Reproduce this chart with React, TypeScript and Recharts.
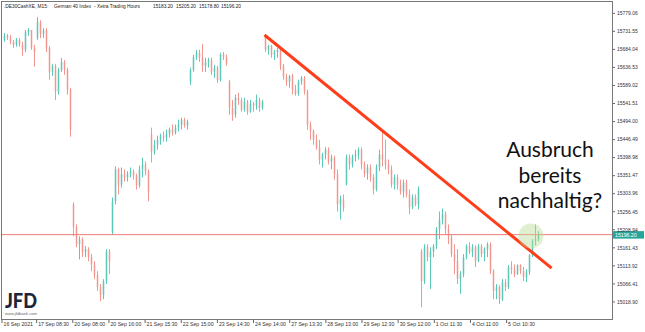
import { Bar, ComposedChart, ReferenceDot, ReferenceLine, XAxis, YAxis } from "recharts";

// M15 candles, [open, high, low, close], grouped roughly by session
const sep16 = [
  [15709, 15727, 15704, 15720], [15720, 15725, 15709, 15714], [15714, 15722, 15698, 15704],
  [15704, 15709, 15688, 15696], [15696, 15714, 15691, 15709], [15709, 15714, 15691, 15696],
  [15696, 15704, 15667, 15683], [15683, 15735, 15677, 15730], [15730, 15740, 15720, 15735],
  [15735, 15735, 15683, 15688], [15688, 15696, 15638, 15677],
];
const sep17 = [
  [15714, 15769, 15709, 15756], [15756, 15761, 15714, 15725], [15725, 15740, 15714, 15735],
  [15735, 15740, 15677, 15688], [15688, 15693, 15604, 15625], [15625, 15646, 15614, 15641],
  [15641, 15646, 15551, 15573], [15573, 15636, 15565, 15630], [15630, 15662, 15625, 15651],
  [15651, 15656, 15617, 15630], [15630, 15636, 15565, 15578], [15578, 15583, 15454, 15473],
];
const sep20 = [
  [15276, 15281, 15192, 15216], [15216, 15223, 15163, 15171], [15171, 15192, 15131, 15184],
  [15184, 15189, 15137, 15150], [15150, 15166, 15137, 15158], [15158, 15163, 15126, 15137],
  [15137, 15145, 15100, 15118], [15118, 15126, 15079, 15090], [15090, 15100, 15048, 15058],
  [15058, 15066, 15021, 15037], [15037, 15079, 15026, 15074], [15074, 15158, 15066, 15152],
  [15152, 15158, 15092, 15126], [15202, 15294, 15197, 15284], [15284, 15376, 15276, 15368],
  [15368, 15373, 15302, 15328], [15328, 15373, 15320, 15355], [15355, 15368, 15336, 15347],
  [15347, 15363, 15336, 15357], [15357, 15373, 15347, 15363], [15363, 15368, 15341, 15352],
  [15352, 15357, 15315, 15326], [15326, 15378, 15320, 15368], [15368, 15399, 15347, 15381],
  [15381, 15389, 15352, 15363], [15363, 15368, 15284, 15310],
];
const sep21 = [
  [15460, 15478, 15386, 15415], [15415, 15446, 15407, 15433], [15433, 15457, 15420, 15446],
  [15446, 15462, 15433, 15457], [15457, 15468, 15441, 15452], [15452, 15473, 15441, 15462],
  [15462, 15478, 15452, 15473], [15473, 15486, 15457, 15465], [15465, 15486, 15460, 15478],
  [15478, 15499, 15468, 15486], [15486, 15504, 15473, 15499], [15499, 15504, 15478, 15483],
  [15483, 15499, 15473, 15494],
];
const sep22 = [
  [15599, 15636, 15591, 15630], [15630, 15670, 15625, 15664], [15664, 15683, 15656, 15675],
  [15675, 15683, 15651, 15662], [15662, 15698, 15625, 15641], [15641, 15662, 15625, 15651],
  [15651, 15662, 15636, 15656], [15656, 15662, 15617, 15625], [15625, 15643, 15609, 15636],
  [15636, 15641, 15596, 15604], [15604, 15675, 15599, 15670], [15670, 15677, 15656, 15664],
  [15664, 15670, 15641, 15646],
];
const sep23 = [
  [15599, 15604, 15512, 15530], [15530, 15551, 15496, 15512], [15512, 15565, 15504, 15557],
  [15557, 15570, 15538, 15551], [15551, 15557, 15520, 15525], [15525, 15557, 15520, 15546],
  [15546, 15551, 15512, 15520], [15520, 15551, 15517, 15541], [15541, 15546, 15520, 15536],
  [15536, 15565, 15525, 15551], [15551, 15557, 15520, 15530], [15530, 15551, 15525, 15546],
];
const sep24 = [
  [15722, 15722, 15677, 15683], [15683, 15696, 15670, 15693], [15693, 15696, 15662, 15670],
  [15670, 15683, 15656, 15677], [15677, 15688, 15662, 15683], [15683, 15688, 15630, 15641],
  [15641, 15646, 15604, 15612], [15612, 15620, 15588, 15599], [15599, 15617, 15583, 15614],
  [15614, 15620, 15565, 15578], [15578, 15591, 15562, 15567], [15567, 15604, 15562, 15599],
  [15599, 15614, 15591, 15609], [15609, 15614, 15565, 15573],
];
const sep27to30 = [
  [15573, 15578, 15473, 15486], [15486, 15494, 15446, 15468], [15468, 15473, 15433, 15446],
  [15446, 15460, 15420, 15426], [15426, 15446, 15381, 15394], [15394, 15412, 15373, 15407],
  [15407, 15426, 15394, 15420], [15420, 15426, 15381, 15389], [15389, 15407, 15368, 15399],
  [15399, 15404, 15341, 15355], [15355, 15368, 15257, 15276], [15276, 15299, 15236, 15289],
  [15289, 15302, 15257, 15268], [15328, 15407, 15326, 15399], [15399, 15407, 15368, 15381],
  [15381, 15407, 15373, 15402], [15402, 15420, 15389, 15407], [15407, 15426, 15394, 15420],
  [15420, 15426, 15368, 15381], [15381, 15389, 15347, 15357], [15357, 15381, 15341, 15373],
  [15373, 15381, 15336, 15347], [15347, 15355, 15302, 15315], [15315, 15381, 15310, 15373],
  [15373, 15420, 15363, 15407], [15407, 15468, 15376, 15394], [15394, 15446, 15368, 15381],
  [15381, 15394, 15355, 15368], [15368, 15378, 15320, 15328], [15328, 15355, 15315, 15347],
  [15347, 15355, 15315, 15326], [15326, 15341, 15302, 15310], [15310, 15341, 15294, 15334],
  [15334, 15341, 15294, 15302], [15302, 15315, 15250, 15268], [15268, 15302, 15263, 15294],
  [15294, 15302, 15271, 15276], [15276, 15323, 15263, 15315],
];
const oct1to5 = [
  [15152, 15158, 15005, 15074], [15074, 15171, 15066, 15163], [15163, 15171, 15126, 15137],
  [15137, 15163, 15053, 15152], [15152, 15171, 15137, 15166], [15166, 15216, 15158, 15210],
  [15210, 15257, 15184, 15236], [15236, 15265, 15223, 15250], [15250, 15257, 15197, 15210],
  [15210, 15223, 15171, 15189], [15189, 15197, 15137, 15145], [15145, 15171, 15092, 15126],
  [15126, 15158, 15066, 15079], [15079, 15100, 15040, 15092], [15092, 15145, 15084, 15137],
  [15137, 15171, 15131, 15166], [15166, 15176, 15145, 15150], [15150, 15171, 15137, 15163],
  [15163, 15168, 15111, 15126], [15126, 15171, 15124, 15166], [15166, 15171, 15137, 15145],
  [15145, 15163, 15126, 15158], [15158, 15176, 15137, 15171], [15171, 15176, 15092, 15100],
  [15100, 15105, 15026, 15048], [15048, 15066, 15026, 15058], [15058, 15063, 15013, 15026],
  [15026, 15079, 15021, 15071], [15071, 15079, 15048, 15058], [15058, 15116, 15053, 15111],
  [15111, 15126, 15092, 15105], [15105, 15118, 15084, 15092], [15092, 15118, 15090, 15116],
  [15116, 15118, 15092, 15100], [15100, 15111, 15074, 15084], [15084, 15105, 15071, 15097],
  [15097, 15145, 15090, 15142], [15142, 15184, 15137, 15179], [15179, 15223, 15168, 15184],
  [15183.2, 15205.2, 15178.8, 15196.2],
];

const priceTicks = [
  15779.06, 15731.55, 15684.04, 15636.53, 15589.02, 15541.51, 15494.0, 15446.49, 15398.98,
  15351.47, 15303.96, 15256.45, 15208.94, 15161.43, 15113.92, 15066.41, 15018.9,
];
const timeLabels = [
  "16 Sep 2021", "17 Sep 08:30", "20 Sep 08:00", "20 Sep 16:00", "21 Sep 15:30",
  "22 Sep 15:00", "23 Sep 14:30", "24 Sep 14:00", "27 Sep 13:30", "28 Sep 13:00",
  "29 Sep 12:30", "30 Sep 12:00", "1 Oct 11:30", "4 Oct 11:00", "5 Oct 10:30",
];
const lastPrice = 15196.2;
const trendLine = [
  { i: 87, price: 15722 },
  { i: 182.7, price: 15108 },
];
const breakout = { i: 175.8, price: 15192.5 };

const UP = "#5cc8b7";
const DOWN = "#f3968f";
const SMALL = "'Liberation Sans', Arial, sans-serif";

const candles = [...sep16, ...sep17, ...sep20, ...sep21, ...sep22, ...sep23, ...sep24, ...sep27to30, ...oct1to5].map(
  ([o, h, l, c], i) => ({ i, o, h, l, c, range: [l, h] })
);
// one label every ~12 bars
const timeTicks = timeLabels.map((_, m) => Math.max(-0.5, m * 12.05 - 1));

function Candle(props: any) {
  const { x, y, width, height, payload } = props;
  const top = Math.min(y, y + height);
  const bot = Math.max(y, y + height);
  const { o, h, l, c } = payload;
  const span = h - l || 1;
  const py = (p: number) => top + ((h - p) / span) * (bot - top);
  const cx = Math.round(x + width / 2);
  const color = c >= o ? UP : DOWN;
  const bTop = py(Math.max(o, c));
  const bBot = py(Math.min(o, c));
  return (
    <g>
      <line x1={cx + 0.5} x2={cx + 0.5} y1={top} y2={bot} stroke={color} strokeWidth={1} />
      <rect x={cx - 0.25} y={bTop} width={1.5} height={Math.max(1, bBot - bTop)} fill={color} />
    </g>
  );
}

function TimeTick(props: any) {
  const { x, y, payload } = props;
  const idx = timeTicks.indexOf(payload.value);
  return (
    <text x={x + 1.5} y={y + 3} fontSize={5.2} fill="#333" fontFamily={SMALL}>
      {timeLabels[idx]}
    </text>
  );
}

function PriceTag(props: any) {
  const { viewBox } = props;
  if (!viewBox) return null;
  const x = viewBox.x + viewBox.width;
  const y = viewBox.y;
  return (
    <g>
      <rect x={x + 1} y={y - 3.5} width={31} height={7.5} fill="#26a69a" />
      <text x={x + 3} y={y + 2} fontSize={5.2} fill="#fff" fontFamily={SMALL}>
        {lastPrice.toFixed(2)}
      </text>
    </g>
  );
}

export default function App() {
  return (
    <div style={{ position: "absolute", left: 0, top: 0, width: 645, height: 332, background: "#fff" }}>
      <ComposedChart width={645} height={332} data={candles} margin={{ top: 1, right: 0, bottom: 0, left: 2 }}>
        <XAxis
          type="number"
          dataKey="i"
          domain={[-0.5, 202.83]}
          allowDataOverflow
          ticks={timeTicks}
          interval={0}
          height={13}
          axisLine={false}
          tickSize={4}
          tickMargin={0}
          tickLine={{ stroke: "#666" }}
          tick={<TimeTick />}
        />
        <YAxis
          orientation="right"
          type="number"
          domain={[14974, 15811.5]}
          allowDataOverflow
          ticks={priceTicks}
          interval={0}
          width={33}
          axisLine={false}
          tickSize={3}
          tickMargin={2}
          tickLine={{ stroke: "#666" }}
          tickFormatter={(v: number) => v.toFixed(2)}
          tick={{ fontSize: 5, fill: "#333", fontFamily: SMALL }}
        />
        <ReferenceLine y={lastPrice} stroke="#ee7b74" strokeWidth={1} label={<PriceTag />} />
        <Bar dataKey="range" barSize={2} shape={<Candle />} isAnimationActive={false} />
        <ReferenceLine
          segment={[
            { x: trendLine[0].i, y: trendLine[0].price },
            { x: trendLine[1].i, y: trendLine[1].price },
          ]}
          stroke="#ff3d1a"
          strokeWidth={3}
        />
        <ReferenceDot x={breakout.i} y={breakout.price} r={12.5} fill="#bcdc98" fillOpacity={0.45} stroke="none" />
      </ComposedChart>
      <svg width={645} height={332} style={{ position: "absolute", left: 0, top: 0, pointerEvents: "none" }}>
        <rect x={1.5} y={1.5} width={611} height={318} fill="none" stroke="#777" strokeWidth={1} />
        <g fontSize={4.8} fill="#222" fontFamily={SMALL}>
          <text x={4} y={7.5}>.DE30CashXE, M15:</text>
          <text x={54} y={7.5}>German 40 Index</text>
          <text x={94} y={7.5}>- Xetra Trading Hours</text>
          <text x={153} y={7.5}>15183.20</text>
          <text x={176} y={7.5}>15205.20</text>
          <text x={199} y={7.5}>15178.80</text>
          <text x={221} y={7.5}>15196.20</text>
        </g>
        <g fontFamily="Lato, 'Open Sans', sans-serif" fontSize={21} fill="#111" textAnchor="middle">
          <text x={550} y={157}>Ausbruch</text>
          <text x={550} y={183}>bereits</text>
          <text x={550} y={208}>nachhaltig?</text>
        </g>
        <text x={5} y={307.5} fontFamily="Lato, sans-serif" fontWeight={900} fontSize={20} fill="#1d2636" textLength={32} lengthAdjust="spacingAndGlyphs">
          JFD
        </text>
        <text x={5} y={314.5} fontFamily={SMALL} fontSize={3.2} fill="#666" textLength={32} lengthAdjust="spacingAndGlyphs">
          www.jfdbank.com
        </text>
      </svg>
    </div>
  );
}
